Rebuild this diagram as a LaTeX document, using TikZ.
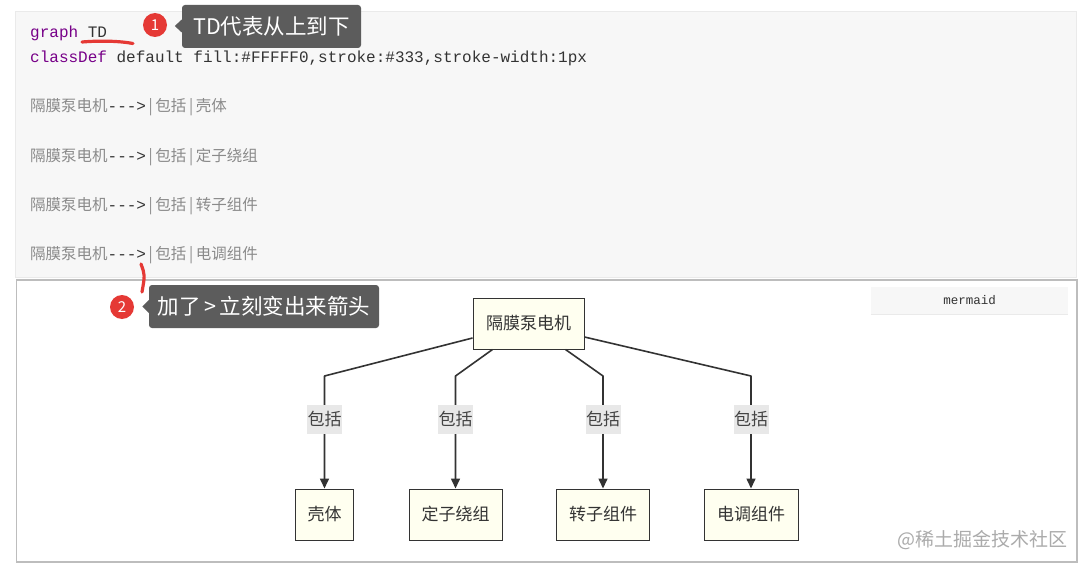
\documentclass[tikz,border=0pt]{standalone}
\usepackage{fontspec}
\newfontfamily\cjk{Noto Sans CJK SC}
\newfontfamily\mono{Liberation Mono}
\usetikzlibrary{arrows.meta}
\definecolor{codebg}{HTML}{F7F7F7}
\definecolor{codeborder}{HTML}{EAEAEA}
\definecolor{panelborder}{HTML}{BDBDBD}
\definecolor{kw}{HTML}{770088}
\definecolor{dark}{HTML}{333333}
\definecolor{cgray}{HTML}{8A8A8A}
\definecolor{ivory}{HTML}{FFFFF0}
\definecolor{lblbg}{HTML}{E8E8E8}
\definecolor{lbltext}{HTML}{444444}
\definecolor{tipc}{HTML}{5C5C5C}
\definecolor{redc}{HTML}{E53935}
\definecolor{wmark}{HTML}{ABABAB}
\tikzset{
  code/.style={anchor=west, inner sep=0pt, text=dark, font=\mono\fontsize{16}{19}\selectfont},
  box/.style={draw=dark, fill=ivory, line width=1pt, minimum height=51pt, inner sep=0pt,
    font=\cjk\fontsize{17}{20}\selectfont, text=dark},
  edge/.style={draw=dark, line width=1.6pt, line join=round, -{Triangle[length=10pt,width=9pt]}},
  lbl/.style={fill=lblbg, text=lbltext, inner sep=0pt, minimum width=35pt, minimum height=29pt,
    font=\cjk\fontsize{17}{20}\selectfont},
  badge/.style={circle, fill=redc, text=white, minimum size=24pt, inner sep=0pt,
    font=\cjk\fontsize{15}{17}\selectfont},
  tip/.style={fill=tipc, rounded corners=3pt, text=white, inner sep=0pt, minimum height=43pt,
    font=\cjk\fontsize{21.5}{24}\selectfont},
  redmark/.style={draw=redc, line width=3.2pt, line cap=round}
}
\newcommand{\cg}[1]{{\cjk\fontsize{15.5}{19}\selectfont\color{cgray}#1}}
\begin{document}
\begin{tikzpicture}[x=1pt,y=-1pt]
\useasboundingbox (0,0) rectangle (1080,567);
\fill[white] (0,0) rectangle (1080,567);
% code panel
\draw[fill=codebg, draw=codeborder, line width=1pt] (15,12) rectangle (1076,277);
% diagram panel
\draw[fill=white, draw=panelborder, line width=1.5pt] (16.5,280) rectangle (1077,562);

% code lines
\node[code] (l1) at (30,33) {{\color{kw}graph} TD};
\node[code] (l2) at (30,58) {{\color{kw}classDef} default fill:\#FFFFF0,stroke:\#333,stroke-width:1px};
\node[code] (l3) at (30,107) {\cg{隔膜泵电机}{\mono --->}\cg{\,|\,包括\,|\,壳体}};
\node[code] (l4) at (30,157) {\cg{隔膜泵电机}{\mono --->}\cg{\,|\,包括\,|\,定子绕组}};
\node[code] (l5) at (30,206) {\cg{隔膜泵电机}{\mono --->}\cg{\,|\,包括\,|\,转子组件}};
\node[code] (l6) at (30,255) {\cg{隔膜泵电机}{\mono --->}\cg{\,|\,包括\,|\,电调组件}};

% annotation 1
\draw[redmark] (82,42) .. controls (100,40.5) and (120,41) .. (133,43.5);
\node[badge] (bd1) at (155,25) {1};
\node[tip, minimum width=179pt] (tip1) at (271.5,26.5) {TD代表从上到下};
\fill[tipc] ([yshift=7pt]tip1.west) -- ([xshift=-7pt,yshift=0.5pt]tip1.west) -- ([yshift=-6pt]tip1.west) -- cycle;

% annotation 2
\draw[redmark] (141,264) .. controls (145,275) .. (142,292);
\node[badge] (bd2) at (122,307) {2};
\node[tip, minimum width=230pt] (tip2) at (264,306.5) {加了\,>\,立刻变出来箭头};
\fill[tipc] ([yshift=6.5pt]tip2.west) -- ([xshift=-6.5pt]tip2.west) -- ([yshift=-6.5pt]tip2.west) -- cycle;

% mermaid tag
\node[fill=codebg, minimum width=197pt, minimum height=27pt, inner sep=0pt, text=dark,
  font=\mono\fontsize{12.5}{15}\selectfont] (mm) at (969.5,300.5) {mermaid};
\draw[codeborder, line width=1pt] (mm.south west) -- (mm.south east);

% graph nodes
\node[box, minimum width=111pt] (root) at (528.5,323.5) {隔膜泵电机};
\node[box, minimum width=58pt] (c1) at (324.5,514.5) {壳体};
\node[box, minimum width=93pt] (c2) at (455.5,514.5) {定子绕组};
\node[box, minimum width=93pt] (c3) at (603,514.5) {转子组件};
\node[box, minimum width=94pt] (c4) at (751,514.5) {电调组件};

\coordinate (k1) at (324.5,376);
\coordinate (k2) at (455.5,376);
\coordinate (k3) at (603,376);
\coordinate (k4) at (751,376);

\draw[edge] ([yshift=-14.5pt]root.west) -- (k1) -- node[lbl, pos=0.385] (e1) {包括} (c1.north);
\draw[edge] ([xshift=20pt]root.south west) -- (k2) -- node[lbl, pos=0.385] (e2) {包括} (c2.north);
\draw[edge] ([xshift=-19pt]root.south east) -- (k3) -- node[lbl, pos=0.385] (e3) {包括} (c3.north);
\draw[edge] ([yshift=-13.5pt]root.east) -- (k4) -- node[lbl, pos=0.385] (e4) {包括} (c4.north);

% watermark
\node[inner sep=0pt, text=wmark, font=\cjk\fontsize{19}{22}\selectfont] (wm) at (982.5,540) {@稀土掘金技术社区};
\end{tikzpicture}
\end{document}
